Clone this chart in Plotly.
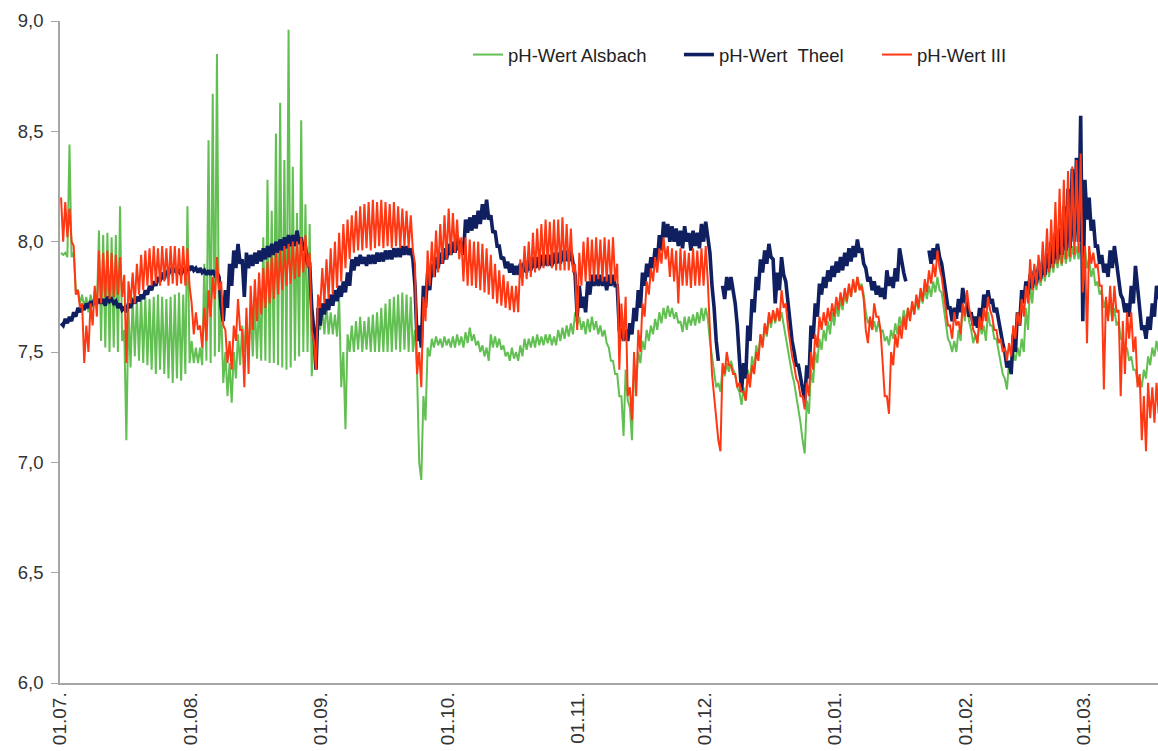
import pandas as pd
import plotly.graph_objects as go

# Daily maximum / minimum pH readings, one entry per day starting 01.07.2010
start = pd.Timestamp("2010-07-01")

theel_hi = [
    7.63, 7.65, 7.66, 7.68, 7.70, 7.71, 7.72, 7.73, 7.74, 7.74,
    7.74, 7.75, 7.74, 7.73, 7.72, 7.70, 7.72, 7.74, 7.75, 7.76,
    7.78, 7.80, 7.82, 7.84, 7.86, 7.87, 7.88, 7.88, 7.87, 7.88,
    7.89, 7.89, 7.88, 7.88, 7.87, 7.87, 7.87, 7.86, 7.70, 7.78,
    7.90, 7.96, 7.99, 7.92, 7.95, 7.94, 7.95, 7.96, 7.97, 7.98,
    7.99, 8.00, 8.01, 8.02, 8.03, 8.03, 8.05, 8.02, 7.98, 7.90,
    7.60, 7.70, 7.72, 7.74, 7.76, 7.78, 7.80, 7.82, 7.86, 7.92,
    7.93, 7.94, 7.93, 7.94, 7.94, 7.95, 7.95, 7.96, 7.96, 7.97,
    7.97, 7.98, 7.98, 7.97, 7.80, 7.62, 7.80, 7.86, 7.90, 7.93,
    7.95, 7.97, 7.99, 8.00, 8.03, 8.00, 8.10, 8.11, 8.12, 8.14,
    8.17, 8.19, 8.12, 8.05, 7.98, 7.93, 7.91, 7.90, 7.89, 7.90,
    7.91, 7.92, 7.93, 7.93, 7.94, 7.94, 7.94, 7.95, 7.95, 7.96,
    7.96, 7.96, 7.85, 7.80, 7.75, 7.82, 7.85, 7.85, 7.85, 7.84,
    7.85, 7.85, 7.80, 7.60, 7.60, 7.63, 7.70, 7.78, 7.86, 7.90,
    7.93, 7.97, 8.03, 8.09, 8.08, 8.07, 8.06, 8.05, 8.07, 8.04,
    8.05, 8.04, 8.08, 8.09, 7.95, 7.70, 7.46, 7.80, 7.84, 7.84,
    7.72, 7.45, 7.45, 7.62, 7.74, 7.84, 7.92, 7.96, 7.99, 7.92,
    7.86, 7.93, 7.82, 7.62, 7.50, 7.44, 7.34, 7.44, 7.62, 7.72,
    7.81, 7.84, 7.87, 7.89, 7.91, 7.93, 7.95, 7.97, 7.98, 8.01,
    7.97, 7.88, 7.84, 7.82, 7.80, 7.79, 7.87, 7.84, 7.88, 7.97,
    7.86, None, None, None, None, None, 7.96, 7.97, 7.99, 7.90,
    7.76, 7.70, 7.70, 7.74, 7.79, 7.72, 7.68, 7.66, 7.70, 7.76,
    7.78, 7.74, 7.70, 7.60, 7.50, 7.46, 7.58, 7.68, 7.78, 7.82,
    7.85, 7.87, 7.89, 7.92, 7.95, 8.00, 8.04, 8.06, 8.16, 8.24,
    8.33, 8.38, 8.57, 8.28, 8.20, 8.10, 7.98, 7.94, 7.90, 7.96,
    7.98, 7.84, 7.74, 7.72, 7.80, 7.89, 7.68, 7.62, 7.66, 7.72,
    7.80,
]
theel_lo = [
    7.62, 7.63, 7.64, 7.66, 7.68, 7.69, 7.70, 7.71, 7.72, 7.72,
    7.71, 7.73, 7.72, 7.70, 7.69, 7.68, 7.70, 7.72, 7.73, 7.74,
    7.76, 7.78, 7.80, 7.82, 7.83, 7.85, 7.86, 7.86, 7.85, 7.86,
    7.87, 7.87, 7.86, 7.86, 7.85, 7.85, 7.85, 7.84, 7.64, 7.70,
    7.80, 7.88, 7.90, 7.75, 7.88, 7.89, 7.90, 7.91, 7.92, 7.93,
    7.94, 7.95, 7.96, 7.97, 7.98, 7.98, 7.99, 7.96, 7.90, 7.70,
    7.42, 7.62, 7.67, 7.69, 7.71, 7.73, 7.75, 7.77, 7.80, 7.87,
    7.89, 7.90, 7.89, 7.90, 7.90, 7.91, 7.91, 7.92, 7.92, 7.93,
    7.93, 7.94, 7.94, 7.92, 7.55, 7.52, 7.70, 7.78, 7.84, 7.88,
    7.90, 7.92, 7.94, 7.95, 7.96, 7.94, 8.04, 8.05, 8.06, 8.08,
    8.10, 8.10, 8.04, 7.98, 7.92, 7.88, 7.86, 7.85, 7.85, 7.86,
    7.86, 7.87, 7.88, 7.88, 7.89, 7.89, 7.89, 7.90, 7.90, 7.91,
    7.91, 7.90, 7.66, 7.70, 7.68, 7.76, 7.80, 7.80, 7.80, 7.78,
    7.80, 7.80, 7.60, 7.55, 7.55, 7.58, 7.64, 7.70, 7.80, 7.84,
    7.88, 7.90, 7.96, 8.02, 8.00, 8.00, 7.98, 7.97, 8.00, 7.96,
    7.98, 7.97, 8.00, 8.02, 7.80, 7.55, None, 7.74, 7.78, 7.78,
    7.62, 7.32, 7.38, 7.55, 7.68, 7.78, 7.86, 7.90, 7.93, 7.72,
    7.78, 7.85, 7.72, 7.55, 7.44, 7.38, 7.28, 7.38, 7.56, 7.66,
    7.76, 7.79, 7.82, 7.84, 7.86, 7.87, 7.89, 7.91, 7.93, 7.95,
    7.90, 7.82, 7.78, 7.76, 7.75, 7.74, 7.80, 7.79, 7.82, 7.90,
    7.82, None, None, None, None, None, 7.90, 7.92, 7.93, 7.84,
    7.70, 7.64, 7.65, 7.68, 7.73, 7.66, 7.62, 7.61, 7.64, 7.70,
    7.72, 7.68, 7.64, 7.54, 7.43, 7.40, 7.50, 7.62, 7.72, 7.76,
    7.79, 7.81, 7.83, 7.85, 7.88, 7.90, 7.92, 7.94, 7.96, 7.97,
    8.00, 8.00, 7.64, 8.10, 8.05, 7.98, 7.90, 7.86, 7.84, 7.88,
    7.90, 7.76, 7.68, 7.66, 7.72, 7.80, 7.60, 7.56, 7.60, 7.66,
    7.74,
]

iii_hi = [
    8.20, 8.18, 8.15, 7.98, 7.78, 7.72, 7.62, 7.72, 7.80, 7.96,
    7.95, 7.96, 7.95, 7.94, 7.93, 7.85, 7.82, 7.86, 7.90, 7.94,
    7.96, 7.97, 7.98, 7.97, 7.98, 7.97, 7.98, 7.98, 7.97, 7.98,
    7.97, 7.72, 7.68, 7.62, 7.70, 7.78, 7.84, 7.93, 7.82, 7.60,
    7.55, 7.62, 7.74, 7.60, 7.70, 7.80, 7.83, 7.86, 7.88, 7.91,
    7.93, 7.95, 7.96, 7.98, 7.99, 8.00, 8.00, 8.02, 8.03, 7.95,
    7.55, 7.76, 7.88, 7.92, 7.97, 8.00, 8.04, 8.08, 8.10, 8.12,
    8.14, 8.16, 8.17, 8.18, 8.19, 8.18, 8.19, 8.18, 8.17, 8.18,
    8.16, 8.15, 8.14, 8.12, 7.90, 7.50, 7.75, 7.96, 8.00, 8.05,
    8.08, 8.12, 8.15, 8.13, 8.10, 8.02, 8.02, 8.01, 8.00, 8.00,
    7.99, 7.97, 7.94, 7.90, 7.87, 7.85, 7.82, 7.80, 7.80, 7.92,
    7.98, 8.00, 8.04, 8.06, 8.08, 8.10, 8.09, 8.10, 8.10, 8.11,
    8.08, 8.06, 7.90, 7.95, 8.00, 8.02, 8.01, 8.02, 8.01, 8.02,
    8.01, 8.02, 7.90, 7.72, 7.75, 7.34, 7.50, 7.60, 7.72, 7.82,
    7.88, 7.93, 7.97, 8.02, 7.98, 7.97, 7.96, 7.97, 7.96, 7.95,
    7.97, 7.96, 7.97, 7.98, 7.60, 7.30, 7.10, 7.45, 7.50, 7.44,
    7.40, 7.36, 7.32, 7.40, 7.44, 7.50, 7.58, 7.63, 7.68, 7.69,
    7.70, 7.78, 7.72, 7.55, 7.44, 7.36, 7.30, 7.36, 7.50, 7.58,
    7.66, 7.68, 7.70, 7.72, 7.75, 7.77, 7.79, 7.81, 7.83, 7.84,
    7.80, 7.60, 7.66, 7.72, 7.66, 7.45, 7.30, 7.50, 7.58, 7.62,
    7.66, 7.70, 7.73, 7.76, 7.79, 7.83, 7.87, 7.90, 7.96, 7.84,
    7.70, 7.62, 7.68, 7.64, 7.72, 7.78, 7.66, 7.58, 7.66, 7.70,
    7.75, 7.66, 7.60, 7.56, 7.52, 7.54, 7.62, 7.68, 7.74, 7.80,
    7.92, 7.90, 7.94, 8.00, 8.06, 8.10, 8.18, 8.24, 8.28, 8.32,
    8.34, 8.37, 8.40, 7.98, 7.98, 7.95, 7.90, 7.80, 7.75, 7.80,
    7.80, 7.69, 7.64, 7.68, 7.68, 7.57, 7.40, 7.30, 7.36, 7.34,
    7.36,
]
iii_lo = [
    8.00, 8.02, 8.00, 7.76, 7.70, 7.45, 7.50, 7.62, 7.66, 7.72,
    7.75, 7.74, 7.75, 7.76, 7.75, 7.45, 7.72, 7.72, 7.76, 7.78,
    7.80, 7.80, 7.81, 7.80, 7.82, 7.80, 7.81, 7.80, 7.81, 7.80,
    7.80, 7.58, 7.60, 7.52, 7.55, 7.66, 7.74, 7.78, 7.62, 7.45,
    7.42, 7.55, 7.60, 7.34, 7.40, 7.60, 7.64, 7.67, 7.70, 7.72,
    7.74, 7.76, 7.78, 7.80, 7.81, 7.83, 7.84, 7.86, 7.88, 7.60,
    7.42, 7.70, 7.72, 7.74, 7.76, 7.79, 7.82, 7.88, 7.92, 7.95,
    7.96, 7.96, 7.97, 7.96, 7.97, 7.98, 7.97, 7.98, 7.97, 7.98,
    7.97, 7.98, 7.97, 7.96, 7.40, 7.34, 7.64, 7.80, 7.84, 7.86,
    7.90, 7.92, 7.94, 7.95, 7.92, 7.82, 7.80, 7.80, 7.79, 7.78,
    7.77, 7.76, 7.74, 7.72, 7.71, 7.70, 7.69, 7.68, 7.68, 7.80,
    7.83, 7.84, 7.86, 7.87, 7.88, 7.89, 7.88, 7.87, 7.87, 7.87,
    7.87, 7.86, 7.60, 7.80, 7.82, 7.82, 7.82, 7.83, 7.82, 7.82,
    7.81, 7.82, 7.42, 7.55, 7.30, 7.19, 7.30, 7.50, 7.66, 7.76,
    7.82, 7.86, 7.90, 7.92, 7.84, 7.82, 7.72, 7.80, 7.80, 7.79,
    7.80, 7.80, 7.80, 7.82, 7.40, 7.20, 7.05, 7.40, 7.44, 7.40,
    7.34, 7.32, 7.28, 7.34, 7.40, 7.46, 7.52, 7.58, 7.63, 7.64,
    7.64, 7.70, 7.62, 7.48, 7.38, 7.30, 7.24, 7.30, 7.42, 7.52,
    7.60, 7.62, 7.64, 7.66, 7.69, 7.71, 7.73, 7.75, 7.77, 7.78,
    7.74, 7.54, 7.60, 7.66, 7.60, 7.30, 7.22, 7.44, 7.52, 7.56,
    7.60, 7.64, 7.67, 7.70, 7.73, 7.77, 7.81, 7.84, 7.88, 7.76,
    7.62, 7.56, 7.62, 7.58, 7.66, 7.70, 7.60, 7.54, 7.60, 7.64,
    7.69, 7.60, 7.54, 7.50, 7.46, 7.48, 7.56, 7.62, 7.66, 7.72,
    7.78, 7.80, 7.82, 7.84, 7.86, 7.88, 7.90, 7.90, 7.92, 7.93,
    7.94, 7.95, 7.77, 7.54, 7.90, 7.88, 7.80, 7.33, 7.64, 7.64,
    7.68, 7.30, 7.40, 7.56, 7.50, 7.34, 7.10, 7.05, 7.20, 7.18,
    7.22,
]

alsbach_hi = [
    7.95, 7.95, 8.44, 7.95, 7.78, 7.76, 7.75, 7.76, 7.78, 8.05,
    8.03, 8.04, 8.02, 8.03, 8.16, 7.60, 7.70, 7.75, 7.74, 7.76,
    7.75, 7.74, 7.75, 7.76, 7.75, 7.74, 7.75, 7.76, 7.77, 7.76,
    8.16, 7.55, 7.52, 7.52, 7.90, 8.46, 8.67, 8.85, 7.70, 7.50,
    7.45, 7.50, 7.58, 7.62, 7.66, 7.70, 7.72, 7.75, 8.02, 8.28,
    8.14, 8.49, 8.63, 8.37, 8.96, 8.34, 8.13, 8.55, 8.17, 8.08,
    7.62, 7.66, 7.70, 7.72, 7.68, 7.67, 7.75, 7.50, 7.58, 7.62,
    7.64, 7.66, 7.64, 7.66, 7.67, 7.68, 7.70, 7.72, 7.74, 7.75,
    7.76, 7.77, 7.76, 7.75, 7.60, 7.00, 7.30, 7.52, 7.56, 7.57,
    7.56, 7.57, 7.56, 7.57, 7.58, 7.57, 7.59, 7.61, 7.58, 7.55,
    7.53, 7.52, 7.58, 7.57, 7.56, 7.53, 7.50, 7.52, 7.50, 7.53,
    7.56, 7.56, 7.57, 7.58, 7.57, 7.58, 7.58, 7.57, 7.60, 7.61,
    7.62, 7.63, 7.68, 7.66, 7.64, 7.65, 7.66, 7.64, 7.62, 7.60,
    7.52, 7.46, 7.40, 7.30, 7.42, 7.25, 7.42, 7.50, 7.55, 7.60,
    7.62, 7.65, 7.68, 7.70, 7.71, 7.70, 7.68, 7.64, 7.66, 7.66,
    7.67, 7.68, 7.70, 7.70, 7.55, 7.40, 7.36, 7.43, 7.45, 7.46,
    7.40, 7.32, 7.34, 7.42, 7.48, 7.53, 7.58, 7.62, 7.66, 7.68,
    7.69, 7.68, 7.58, 7.46, 7.36, 7.26, 7.10, 7.28, 7.42, 7.50,
    7.56, 7.60, 7.64, 7.68, 7.71, 7.74, 7.77, 7.80, 7.82, 7.84,
    7.81, 7.68, 7.65, 7.64, 7.64, 7.60, 7.57, 7.60, 7.63, 7.66,
    7.69, 7.70, 7.72, 7.74, 7.77, 7.79, 7.80, 7.82, 7.84, 7.77,
    7.62, 7.54, 7.55, 7.60, 7.72, 7.74, 7.60, 7.58, 7.64, 7.62,
    7.68, 7.62, 7.56, 7.46, 7.38, 7.46, 7.50, 7.52, 7.56, 7.70,
    7.80, 7.84, 7.86, 7.88, 7.90, 7.92, 7.94, 7.95, 7.96, 7.97,
    7.98, 7.98, 7.99, 7.98, 7.92, 7.88, 7.82, 7.78, 7.74, 7.72,
    7.70, 7.64, 7.56, 7.52, 7.48, 7.42, 7.38, 7.42, 7.48, 7.52,
    7.55,
]
alsbach_lo = [
    7.94, 7.93, 7.93, 7.78, 7.72, 7.70, 7.68, 7.70, 7.70, 7.55,
    7.52, 7.50, 7.52, 7.50, 7.55, 7.10, 7.43, 7.48, 7.46, 7.45,
    7.44, 7.42, 7.40, 7.42, 7.40, 7.38, 7.36, 7.38, 7.37, 7.40,
    7.45, 7.45, 7.45, 7.44, 7.46, 7.45, 7.48, 7.50, 7.36, 7.30,
    7.27, 7.38, 7.44, 7.50, 7.48, 7.48, 7.47, 7.46, 7.46, 7.45,
    7.45, 7.44, 7.43, 7.42, 7.43, 7.46, 7.48, 7.50, 7.50, 7.39,
    7.45, 7.60, 7.58, 7.58, 7.58, 7.57, 7.34, 7.15, 7.50, 7.50,
    7.51, 7.50, 7.51, 7.50, 7.50, 7.50, 7.50, 7.50, 7.50, 7.51,
    7.50, 7.51, 7.50, 7.50, 7.40, 6.92, 7.19, 7.48, 7.52, 7.53,
    7.52, 7.53, 7.52, 7.52, 7.53, 7.52, 7.54, 7.55, 7.53, 7.50,
    7.48, 7.46, 7.52, 7.52, 7.51, 7.48, 7.46, 7.47, 7.46, 7.48,
    7.51, 7.52, 7.52, 7.53, 7.53, 7.54, 7.53, 7.53, 7.55, 7.56,
    7.57, 7.58, 7.62, 7.60, 7.58, 7.59, 7.60, 7.58, 7.57, 7.54,
    7.46, 7.40, 7.30, 7.12, 7.28, 7.10, 7.36, 7.45, 7.51, 7.55,
    7.58, 7.60, 7.63, 7.65, 7.66, 7.65, 7.63, 7.59, 7.60, 7.62,
    7.62, 7.63, 7.64, 7.65, 7.48, 7.34, 7.32, 7.39, 7.41, 7.42,
    7.34, 7.26, 7.28, 7.36, 7.42, 7.48, 7.53, 7.57, 7.61, 7.63,
    7.64, 7.62, 7.50, 7.40, 7.30, 7.18, 7.04, 7.22, 7.36, 7.45,
    7.51, 7.55, 7.58, 7.62, 7.66, 7.69, 7.72, 7.75, 7.77, 7.79,
    7.76, 7.63, 7.60, 7.59, 7.59, 7.55, 7.53, 7.56, 7.58, 7.61,
    7.64, 7.65, 7.67, 7.69, 7.72, 7.74, 7.75, 7.77, 7.78, 7.70,
    7.56, 7.50, 7.50, 7.55, 7.64, 7.64, 7.54, 7.54, 7.58, 7.55,
    7.62, 7.56, 7.50, 7.40, 7.33, 7.40, 7.46, 7.48, 7.50, 7.60,
    7.72, 7.78, 7.80, 7.82, 7.84, 7.86, 7.88, 7.89, 7.90, 7.91,
    7.92, 7.92, 7.92, 7.88, 7.84, 7.80, 7.76, 7.70, 7.66, 7.64,
    7.62, 7.56, 7.50, 7.46, 7.42, 7.36, 7.34, 7.38, 7.44, 7.48,
    7.50,
]

# name, daily max, daily min, colour, line width, legend slot, legend x position
series = [
    ("pH-Wert Alsbach", alsbach_hi, alsbach_lo, "#62bf52", 2.0, "legend", 0.3716),
    ("pH-Wert  Theel", theel_hi, theel_lo, "#0f1f5f", 3.6, "legend2", 0.5637),
    ("pH-Wert III", iii_hi, iii_lo, "#ff3814", 2.0, "legend3", 0.7441),
]


def daily_trace(hi, lo):
    """Interleave the daily maximum (midday) and minimum (night) readings."""
    xs, ys = [], []
    for d, (h, l) in enumerate(zip(hi, lo)):
        xs.append(start + pd.Timedelta(days=d + 0.25))
        ys.append(h)
        xs.append(start + pd.Timedelta(days=d + 0.75))
        ys.append(l)
    return xs, ys


font_family = "Arial, Liberation Sans, sans-serif"
axis_grey = "#a6a6a6"
text_grey = "#333333"

fig = go.Figure()
legends = {}
for name, hi, lo, color, width, slot, lx in series:
    xs, ys = daily_trace(hi, lo)
    fig.add_trace(go.Scatter(
        x=xs, y=ys, mode="lines", name=name,
        line=dict(color=color, width=width),
        connectgaps=False, legend=slot,
    ))
    legends[slot] = dict(
        orientation="h", x=lx, y=0.9486, xanchor="left", yanchor="middle",
        bgcolor="rgba(0,0,0,0)", borderwidth=0,
        font=dict(family=font_family, size=18.5, color="#222222"),
    )

fig.update_layout(
    width=1158, height=751,
    margin=dict(l=60, r=0, t=21, b=68),
    paper_bgcolor="white", plot_bgcolor="white",
    separators=",.",
    font=dict(family=font_family, size=18.5, color=text_grey),
    showlegend=True,
    xaxis=dict(
        type="date",
        range=[start, start + pd.Timedelta(days=260.6)],
        tick0="2010-07-01", dtick="M1", tickformat="%d.%m.",
        tickangle=-90, showgrid=False, zeroline=False,
        showline=True, linecolor=axis_grey, linewidth=1.5,
        ticks="", tickfont=dict(size=19, color=text_grey),
    ),
    yaxis=dict(
        range=[6, 9], dtick=0.5, tick0=6, tickformat=".1f",
        showgrid=False, zeroline=False,
        showline=True, linecolor=axis_grey, linewidth=1.5,
        ticks="outside", ticklen=7, tickcolor=axis_grey, tickwidth=1,
        ticklabelstandoff=4,
        tickfont=dict(size=18.5, color=text_grey),
    ),
    **legends,
)

fig.write_html("out.html")
